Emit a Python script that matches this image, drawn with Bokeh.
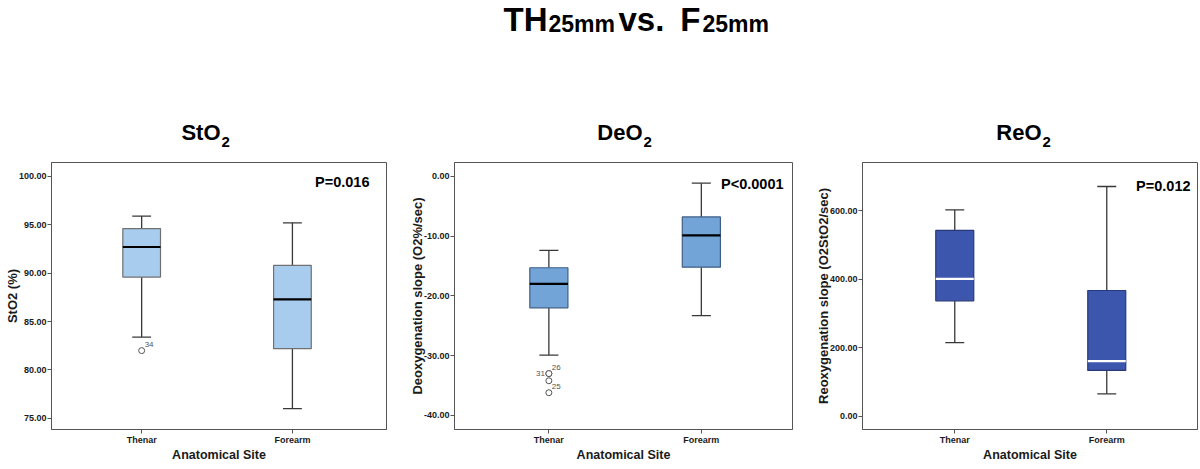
from bokeh.plotting import figure
from bokeh.layouts import column, row
from bokeh.models import Range1d, FixedTicker, PrintfTickFormatter, ColumnDataSource
from bokeh.core.properties import value
from bokeh.embed import file_html
from bokeh.resources import INLINE

FONT = value("Liberation Sans")

# ---------------- data ----------------
categories = ["Thenar", "Forearm"]

sto2_low = [83.4, 76.0]
sto2_q1 = [89.6, 82.2]
sto2_median = [92.7, 87.3]
sto2_q3 = [94.6, 90.8]
sto2_high = [95.9, 95.2]
sto2_outlier_site = ["Thenar"]
sto2_outlier_value = [82.0]
sto2_outlier_case = ["34"]
sto2_p = "P=0.016"
sto2_ticks = [75, 80, 85, 90, 95, 100]

deo2_low = [-29.9, -23.3]
deo2_q1 = [-22.0, -15.2]
deo2_median = [-18.0, -9.9]
deo2_q3 = [-15.3, -6.8]
deo2_high = [-12.4, -1.15]
deo2_outlier_site = ["Thenar", "Thenar", "Thenar", "Thenar"]
deo2_outlier_value = [-33.0, -33.0, -34.2, -36.2]
deo2_outlier_case = ["26", "31", "", "25"]
deo2_p = "P<0.0001"
deo2_ticks = [-40, -30, -20, -10, 0]

reo2_low = [215, 66]
reo2_q1 = [337, 134]
reo2_median = [401, 161]
reo2_q3 = [542, 367]
reo2_high = [602, 670]
reo2_outlier_site = []
reo2_outlier_value = []
reo2_outlier_case = []
reo2_p = "P=0.012"
reo2_ticks = [0, 200, 400, 600]

main_title = ["TH", "25mm", "vs.", "F", "25mm"]
panel_titles = [("StO", "2"), ("DeO", "2"), ("ReO", "2")]
y_labels = ["StO2 (%)", "Deoxygenation slope (O2%/sec)", "Reoxygenation slope (O2StO2/sec)"]
x_label = "Anatomical Site"

# ---------------- header ----------------
W = 1199
HEAD_H = 150
header = figure(width=W, height=HEAD_H, x_range=Range1d(0, W), y_range=Range1d(HEAD_H, 0),
                title=None, output_backend="svg", toolbar_location=None,
                x_axis_location=None, y_axis_location=None, min_border=0)
header.outline_line_color = None
header.xgrid.visible = False
header.ygrid.visible = False

def htext(x, y, txt, size, align, baseline="middle"):
    header.text(x=[x], y=[y], text=[txt], text_font=FONT, text_font_style="bold",
                text_font_size=size, text_align=align, text_baseline=baseline,
                text_color="black")

htext(547, 0, main_title[0], "33px", "right", "top")
htext(548, 23, main_title[1], "23px", "left")
htext(618, 0, main_title[2], "33px", "left", "top")
htext(700, 0, main_title[3], "33px", "right", "top")
htext(702, 23, main_title[4], "23px", "left")

for (main, sub), xr in zip(panel_titles, [220, 642, 1041]):
    htext(xr, 132, main, "22px", "right")
    htext(xr + 1, 141, sub, "15px", "left")

# ---------------- panels ----------------
PANEL_H = 468 - HEAD_H
BOX_W = 0.25
CAP_W = 0.125

def make_panel(spec):
    xs = list(range(len(categories)))
    pos = {c: i for i, c in enumerate(categories)}
    p = figure(width=spec["width"], height=PANEL_H, title=None,
               x_range=Range1d(*spec["xrange"]),
               y_range=Range1d(*spec["yrange"]),
               output_backend="svg", toolbar_location=None,
               min_border_left=51, min_border_right=spec["br"],
               min_border_top=spec["bt"], min_border_bottom=spec["bb"])
    p.xgrid.visible = False
    p.ygrid.visible = False
    p.outline_line_color = "#555555"
    p.background_fill_color = "white"

    low, q1, med, q3, high = spec["stats"]
    wc = spec["whisker"]
    # whiskers
    p.segment(x0=xs, y0=q3, x1=xs, y1=high, line_color=wc, line_width=1.3)
    p.segment(x0=xs, y0=q1, x1=xs, y1=low, line_color=wc, line_width=1.3)
    p.segment(x0=[x - CAP_W / 2 for x in xs], y0=high, x1=[x + CAP_W / 2 for x in xs], y1=high,
              line_color=wc, line_width=1.3)
    p.segment(x0=[x - CAP_W / 2 for x in xs], y0=low, x1=[x + CAP_W / 2 for x in xs], y1=low,
              line_color=wc, line_width=1.3)
    # boxes
    p.vbar(x=xs, bottom=q1, top=q3, width=BOX_W, fill_color=spec["fill"],
           line_color=spec["edge"], line_width=1.2)
    # medians
    p.segment(x0=[x - BOX_W / 2 for x in xs], y0=med, x1=[x + BOX_W / 2 for x in xs], y1=med,
              line_color=spec["median"], line_width=2.2)

    # outliers
    osite, oval, ocase = spec["outliers"]
    if oval:
        ox = [pos[s] for s in osite]
        p.scatter(x=ox, y=oval, marker="circle", size=6, fill_color="white",
                  line_color="#555555", line_width=1)
        src = ColumnDataSource(dict(x=ox, y=oval, t=ocase,
                                    dx=spec["label_dx"], dy=spec["label_dy"],
                                    al=spec["label_align"]))
        p.text(x="x", y="y", text="t", x_offset="dx", y_offset="dy", text_align="al",
               text_baseline="middle", text_font=FONT, text_font_size="8px",
               text_color="#555555", source=src)

    # p-value
    p.text(x=[spec["p_x"]], y=[spec["p_y"]], text=[spec["p"]], text_font=FONT,
           text_font_style="bold", text_font_size="14.5px", text_align="right",
           text_baseline="middle", text_color="black")

    # axes
    p.xaxis.ticker = FixedTicker(ticks=xs)
    p.xaxis.major_label_overrides = {i: c for i, c in enumerate(categories)}
    p.yaxis.ticker = FixedTicker(ticks=spec["ticks"])
    p.yaxis.formatter = PrintfTickFormatter(format="%.2f")
    for ax in (p.xaxis[0], p.yaxis[0]):
        ax.axis_line_color = "#555555"
        ax.major_tick_line_color = "#555555"
        ax.major_tick_out = 4
        ax.major_tick_in = 0
        ax.minor_tick_line_color = None
        ax.major_label_text_font = "Liberation Sans"
        ax.major_label_text_font_style = "bold"
        ax.major_label_text_font_size = "9px"
        ax.major_label_text_color = "#1a1a1a"
        ax.axis_label_text_font = "Liberation Sans"
        ax.axis_label_text_font_style = "bold"
        ax.axis_label_text_color = "#1a1a1a"
    p.xaxis.axis_label_text_font_size = "12.5px"
    p.yaxis.axis_label_text_font_size = "13px"
    p.xaxis.major_label_standoff = 1
    p.yaxis.major_label_standoff = 1
    p.xaxis.axis_label_standoff = 0
    p.yaxis.axis_label_standoff = -4
    p.xaxis.axis_label = x_label
    p.yaxis.axis_label = spec["ylabel"]
    return p

p1 = make_panel(dict(width=403, br=17, bt=12, bb=35,
                     xrange=(-0.598, 1.624), yrange=(73.85, 101.43),
                     stats=(sto2_low, sto2_q1, sto2_median, sto2_q3, sto2_high),
                     outliers=(sto2_outlier_site, sto2_outlier_value, sto2_outlier_case),
                     label_dx=[3], label_dy=[-6], label_align=["left"],
                     fill="#A8CCEE", edge="#707070", whisker="#383838", median="black",
                     p=sto2_p, p_x=1.511, p_y=99.4, ticks=sto2_ticks, ylabel=y_labels[0]))

p2 = make_panel(dict(width=408, br=19, bt=8, bb=38,
                     xrange=(-0.619, 1.598), yrange=(-42.35, 2.3),
                     stats=(deo2_low, deo2_q1, deo2_median, deo2_q3, deo2_high),
                     outliers=(deo2_outlier_site, deo2_outlier_value, deo2_outlier_case),
                     label_dx=[3, -4, 3, 3], label_dy=[-6, 0, -6, -6],
                     label_align=["left", "right", "left", "left"],
                     fill="#72A4D8", edge="#3F5F85", whisker="#383838", median="black",
                     p=deo2_p, p_x=1.539, p_y=-1.3, ticks=deo2_ticks, ylabel=y_labels[1]))

p3 = make_panel(dict(width=388, br=2, bt=8, bb=39,
                     xrange=(-0.607, 1.597), yrange=(-38, 740),
                     stats=(reo2_low, reo2_q1, reo2_median, reo2_q3, reo2_high),
                     outliers=(reo2_outlier_site, reo2_outlier_value, reo2_outlier_case),
                     label_dx=[], label_dy=[], label_align=[],
                     fill="#3C56AD", edge="#28397A", whisker="#383838", median="white",
                     p=reo2_p, p_x=1.551, p_y=672, ticks=reo2_ticks, ylabel=y_labels[2]))

layout = column(header, row(p1, p2, p3, spacing=0), spacing=0)

open("out.html", "w").write(file_html(layout, INLINE))
